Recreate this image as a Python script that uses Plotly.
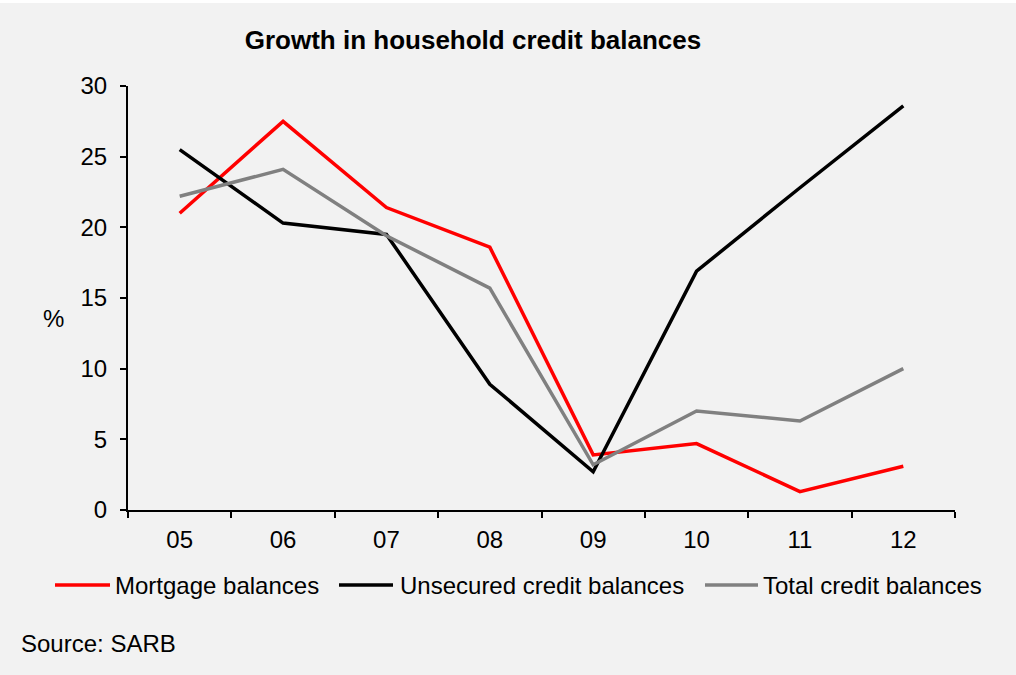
import plotly.graph_objects as go

years = ["05", "06", "07", "08", "09", "10", "11", "12"]
mortgage = [21.0, 27.5, 21.4, 18.6, 3.9, 4.7, 1.3, 3.1]
unsecured = [25.5, 20.3, 19.5, 8.9, 2.7, 16.9, 22.8, 28.6]
total = [22.2, 24.1, 19.4, 15.7, 3.2, 7.0, 6.3, 10.0]

series_names = ["Mortgage balances", "Unsecured credit balances", "Total credit balances"]
series_values = [mortgage, unsecured, total]
series_colors = ["#FF0000", "#000000", "#808080"]

FONT = "Liberation Sans, Arial, sans-serif"
FS = 24

W, H = 1016, 675
ml, mr, mt, mb = 128, 61, 86, 165
pw = W - ml - mr
ph = H - mt - mb


def px2x(px):
    return (px - ml) / pw


def py2y(py):
    return 1 - (py - mt) / ph


fig = go.Figure()
for name, vals, col in zip(series_names, series_values, series_colors):
    fig.add_trace(go.Scatter(x=years, y=vals, name=name, mode="lines",
                             line=dict(color=col, width=3.5)))

annotations = [
    dict(text="%", x=px2x(41), y=py2y(318), xref="paper", yref="paper",
         showarrow=False, font=dict(family=FONT, size=FS)),
    dict(text="Source: SARB", x=px2x(19), y=py2y(643), xref="paper", yref="paper",
         xanchor="left", yanchor="middle", showarrow=False,
         font=dict(family=FONT, size=FS)),
]
shapes = []

# custom legend (sample line start, sample line end, text start) in pixels
legend_pos = [(55, 110, 113), (339, 393, 398), (705, 758, 761)]
legend_y = 585
for name, col, (l0, l1, tx) in zip(series_names, series_colors, legend_pos):
    shapes.append(dict(type="line", xref="paper", yref="paper",
                       x0=px2x(l0), x1=px2x(l1), y0=py2y(legend_y), y1=py2y(legend_y),
                       line=dict(color=col, width=3.5)))
    annotations.append(dict(text=name, x=px2x(tx), y=py2y(legend_y), xref="paper",
                            yref="paper", xanchor="left", yanchor="middle",
                            showarrow=False, font=dict(family=FONT, size=FS)))

# thin white strip at the very top
shapes.append(dict(type="rect", xref="paper", yref="paper",
                   x0=px2x(0), x1=px2x(W), y0=py2y(3), y1=py2y(0),
                   fillcolor="#FFFFFF", line=dict(width=0), layer="below"))

fig.update_layout(
    width=W, height=H,
    margin=dict(l=ml, r=mr, t=mt, b=mb),
    paper_bgcolor="#F2F2F2", plot_bgcolor="#F2F2F2",
    font=dict(family=FONT, size=FS, color="#000000"),
    title=dict(text="<b>Growth in household credit balances</b>",
               x=473 / W, xanchor="center", xref="container",
               y=1 - 40 / H, yanchor="middle", yref="container",
               font=dict(family=FONT, size=26, color="#000000")),
    showlegend=False,
    xaxis=dict(type="category", range=[-0.5, 7.5], showgrid=False, zeroline=False,
               showline=True, linecolor="#000000", linewidth=2,
               ticks="outside", tickson="boundaries", ticklen=6, tickwidth=2,
               tickcolor="#000000", tickfont=dict(family=FONT, size=FS),
               ticklabelstandoff=7),
    yaxis=dict(range=[0, 30], dtick=5, showgrid=False, zeroline=False,
               showline=True, linecolor="#000000", linewidth=2,
               ticks="outside", ticklen=6, tickwidth=2, tickcolor="#000000",
               tickfont=dict(family=FONT, size=FS), ticklabelstandoff=8),
    annotations=annotations,
    shapes=shapes,
)

fig.write_html("out.html", config={"displayModeBar": False},
               post_script="document.body.style.margin='0';")
